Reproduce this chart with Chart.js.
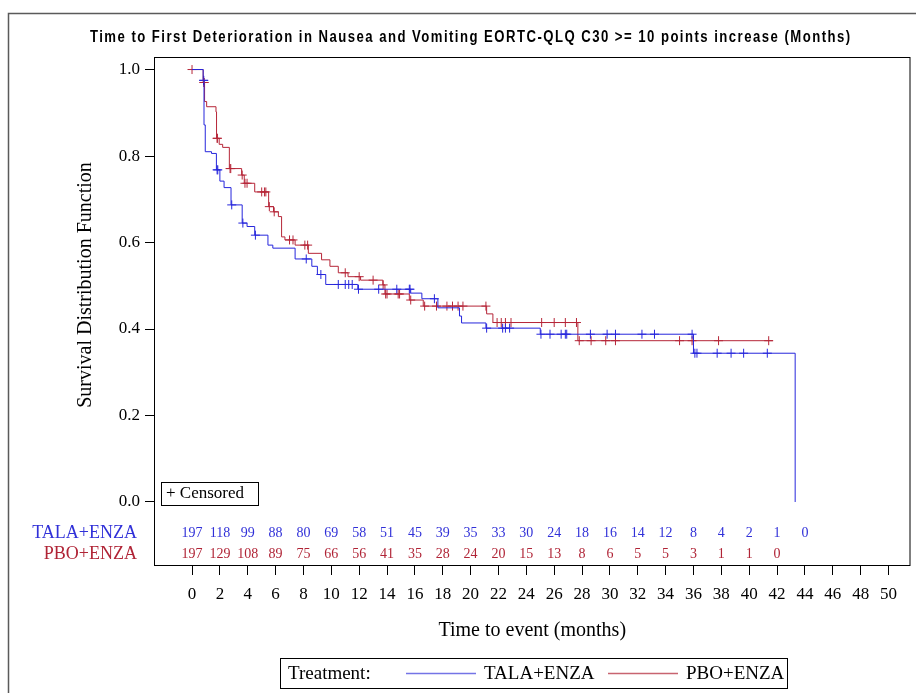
<!DOCTYPE html>
<html>
<head>
<meta charset="utf-8">
<title>Time to First Deterioration in Nausea and Vomiting</title>
<script src="https://cdn.jsdelivr.net/npm/chart.js@4.4.1/dist/chart.umd.min.js"></script>
<style>
    html, body { margin: 0; padding: 0; background: #ffffff; }
    #wrap { width: 916px; height: 693px; position: relative; }
</style>
</head>
<body>
<div id="wrap"><canvas id="kmChart" width="916" height="693"></canvas></div>
<script>
// Kaplan-Meier steps: time (months) and survival after the step
const talaTimes = [0, 0.8, 0.86, 0.95, 1.4, 1.75, 2.0, 2.3, 2.8, 3.6, 3.95, 4.5, 5.45, 5.8, 7.4, 8.6, 9.0, 9.6, 11.9, 15.7, 16.5, 17.65, 19.2, 19.35, 21.1, 25.0, 36.0, 43.3];
const talaSurv = [1.0, 0.975, 0.872, 0.81, 0.806, 0.768, 0.742, 0.727, 0.687, 0.645, 0.637, 0.617, 0.594, 0.587, 0.562, 0.545, 0.526, 0.503, 0.492, 0.483, 0.47, 0.449, 0.43, 0.414, 0.402, 0.388, 0.344, 0.0];
const talaCensored = [0.83, 0.84, 1.8, 1.85, 2.85, 3.65, 4.55, 8.2, 9.25, 10.5, 11.0, 11.25, 11.5, 11.95, 13.4, 14.7, 15.6, 15.65, 17.4, 21.15, 22.3, 22.5, 22.8, 25.05, 25.7, 26.5, 26.8, 26.9, 28.6, 29.8, 30.4, 32.3, 33.2, 35.9, 36.1, 36.25, 37.7, 38.7, 39.6, 41.3];

const pboTimes = [0, 0.8, 0.9, 1.05, 1.72, 1.76, 1.95, 2.2, 2.68, 3.56, 3.75, 4.5, 5.5, 5.85, 6.2, 6.43, 6.67, 7.4, 8.35, 9.3, 9.9, 10.5, 11.2, 12.1, 13.7, 13.85, 15.6, 16.6, 21.15, 21.6, 27.7, 41.7];
const pboSurv = [1.0, 0.97, 0.926, 0.914, 0.902, 0.841, 0.827, 0.82, 0.771, 0.756, 0.737, 0.717, 0.683, 0.671, 0.66, 0.613, 0.606, 0.594, 0.575, 0.56, 0.545, 0.53, 0.521, 0.513, 0.502, 0.481, 0.467, 0.453, 0.435, 0.415, 0.373, 0.373];
const pboCensored = [0, 0.85, 0.87, 1.8, 1.82, 2.73, 2.78, 3.6, 3.8, 3.95, 5.0, 5.2, 5.3, 5.55, 5.9, 7.0, 7.25, 8.1, 8.3, 11.0, 12.0, 13.0, 13.72, 13.9, 14.0, 14.8, 14.9, 15.7, 16.7, 17.55, 18.3, 18.7, 19.1, 19.45, 21.1, 21.9, 22.2, 22.5, 22.9, 25.1, 26.0, 26.8, 27.6, 27.8, 28.65, 29.7, 30.4, 35.0, 35.9, 37.8, 41.4];

// Number at risk table
const riskTimes = [0, 2, 4, 6, 8, 10, 12, 14, 16, 18, 20, 22, 24, 26, 28, 30, 32, 34, 36, 38, 40, 42, 44];
const talaRisk = [197, 118, 99, 88, 80, 69, 58, 51, 45, 39, 35, 33, 30, 24, 18, 16, 14, 12, 8, 4, 2, 1, 0];
const pboRisk = [197, 129, 108, 89, 75, 66, 56, 41, 35, 28, 24, 20, 15, 13, 8, 6, 5, 5, 3, 1, 1, 0];

// Axis ticks
const xTicks = [0, 2, 4, 6, 8, 10, 12, 14, 16, 18, 20, 22, 24, 26, 28, 30, 32, 34, 36, 38, 40, 42, 44, 46, 48, 50];
const yTicks = [0.0, 0.2, 0.4, 0.6, 0.8, 1.0];

const groups = ['TALA+ENZA', 'PBO+ENZA'];
const colors = {
    tala: '#2626dc',
    pbo: '#b62638',
    talaText: '#3030d8',
    pboText: '#b02436',
    talaLegend: '#7474e6',
    pboLegend: '#c86470'
};
const SERIF = '"Liberation Serif", "Times New Roman", serif';

// survival value of a step function at time t
function survAt(times, surv, t) {
    let s = surv[0];
    for (let i = 0; i < times.length; i++) {
        if (times[i] <= t) s = surv[i];
    }
    return s;
}

function stepPoints(times, surv) {
    return times.map((t, i) => ({ x: t, y: surv[i] }));
}

function censorPoints(times, surv, cens) {
    return cens.map(t => ({ x: t, y: survAt(times, surv, t) }));
}

// Decorations: frames, titles, at-risk table, legend
const sasDecor = {
    id: 'sasDecor',
    afterDraw(chart) {
        const ctx = chart.ctx;
        const area = chart.chartArea;
        const xs = chart.scales.x;
        ctx.save();

        // outer border
        ctx.strokeStyle = '#5a5a5a';
        ctx.lineWidth = 1.5;
        ctx.beginPath();
        ctx.moveTo(8.5, 693);
        ctx.lineTo(8.5, 13.5);
        ctx.lineTo(916, 13.5);
        ctx.stroke();

        // plot frame
        ctx.strokeStyle = '#000';
        ctx.lineWidth = 1;
        ctx.strokeRect(area.left + 0.5, area.top + 0.5, area.width - 1, area.height - 1);

        // title (condensed bold, stretched to the reference width)
        const title = 'Time to First Deterioration in Nausea and Vomiting EORTC-QLQ C30 >= 10 points increase (Months)';
        ctx.fillStyle = '#000';
        ctx.textBaseline = 'middle';
        ctx.textAlign = 'left';
        ctx.save();
        const sx = 0.82;
        ctx.translate(90, 38);
        ctx.scale(sx, 1);
        ctx.font = 'bold 16px "Liberation Sans", sans-serif';
        const w = ctx.measureText(title).width;
        const spacing = (760 / sx - w) / (title.length - 1);
        ctx.letterSpacing = spacing.toFixed(2) + 'px';
        ctx.fillText(title, 0, 0);
        ctx.letterSpacing = '0px';
        ctx.restore();

        // y axis title
        ctx.save();
        ctx.translate(86, 285);
        ctx.rotate(-Math.PI / 2);
        ctx.font = '20px ' + SERIF;
        ctx.textAlign = 'center';
        ctx.fillText('Survival Distribution Function', 0, 0);
        ctx.restore();

        // x axis title
        ctx.font = '20px ' + SERIF;
        ctx.textAlign = 'center';
        ctx.fillText('Time to event (months)', (area.left + area.right) / 2, 631);

        // censored box
        ctx.strokeRect(161.5, 482.5, 97, 23);
        ctx.font = '17px ' + SERIF;
        ctx.textAlign = 'left';
        ctx.fillText('+ Censored', 166, 494);

        // at-risk table
        ctx.font = '18px ' + SERIF;
        ctx.textAlign = 'right';
        ctx.fillStyle = colors.talaText;
        ctx.fillText(groups[0], 137, 533);
        ctx.fillStyle = colors.pboText;
        ctx.fillText(groups[1], 137, 554);

        ctx.font = '14px ' + SERIF;
        ctx.textAlign = 'center';
        ctx.fillStyle = colors.talaText;
        talaRisk.forEach((n, i) => ctx.fillText(String(n), xs.getPixelForValue(riskTimes[i]), 533));
        ctx.fillStyle = colors.pboText;
        pboRisk.forEach((n, i) => ctx.fillText(String(n), xs.getPixelForValue(riskTimes[i]), 554));

        // legend
        ctx.strokeStyle = '#000';
        ctx.strokeRect(280.5, 658.5, 507, 30);
        ctx.fillStyle = '#000';
        ctx.font = '19px ' + SERIF;
        ctx.textAlign = 'left';
        ctx.fillText('Treatment:', 288, 674);
        ctx.lineWidth = 1.5;
        ctx.strokeStyle = colors.talaLegend;
        ctx.beginPath();
        ctx.moveTo(406, 673.5);
        ctx.lineTo(476, 673.5);
        ctx.stroke();
        ctx.fillText(groups[0], 484, 674);
        ctx.strokeStyle = colors.pboLegend;
        ctx.beginPath();
        ctx.moveTo(608, 673.5);
        ctx.lineTo(678, 673.5);
        ctx.stroke();
        ctx.fillText(groups[1], 686, 674);

        ctx.restore();
    }
};

const ctx = document.getElementById('kmChart');

new Chart(ctx, {
    type: 'line',
    data: {
        datasets: [
            {
                label: groups[0],
                data: stepPoints(talaTimes, talaSurv),
                borderColor: colors.tala,
                borderWidth: 1,
                stepped: 'before',
                pointRadius: 0,
                fill: false
            },
            {
                label: groups[1],
                data: stepPoints(pboTimes, pboSurv),
                borderColor: colors.pbo,
                borderWidth: 1,
                stepped: 'before',
                pointRadius: 0,
                fill: false
            },
            {
                label: groups[0] + ' censored',
                data: censorPoints(talaTimes, talaSurv, talaCensored),
                showLine: false,
                pointStyle: 'cross',
                pointRadius: 4.5,
                pointBorderWidth: 1,
                pointBorderColor: colors.tala
            },
            {
                label: groups[1] + ' censored',
                data: censorPoints(pboTimes, pboSurv, pboCensored),
                showLine: false,
                pointStyle: 'cross',
                pointRadius: 4.5,
                pointBorderWidth: 1,
                pointBorderColor: colors.pbo
            }
        ]
    },
    options: {
        responsive: false,
        animation: false,
        layout: {
            padding: { top: 57, right: 5, left: 0, bottom: 0 }
        },
        plugins: {
            legend: { display: false },
            tooltip: { enabled: false },
            title: { display: false }
        },
        scales: {
            x: {
                type: 'linear',
                min: -2.73,
                max: 51.58,
                afterBuildTicks: axis => { axis.ticks = xTicks.map(v => ({ value: v })); },
                afterFit: scale => { scale.height = 127; },
                border: { display: false },
                grid: {
                    drawOnChartArea: false,
                    drawTicks: true,
                    tickLength: 9,
                    color: '#000'
                },
                ticks: {
                    autoSkip: false,
                    maxRotation: 0,
                    padding: 9,
                    color: '#000',
                    font: { size: 17, family: SERIF },
                    callback: v => String(v)
                }
            },
            y: {
                type: 'linear',
                min: -0.148,
                max: 1.029,
                afterBuildTicks: axis => { axis.ticks = yTicks.map(v => ({ value: v })); },
                afterFit: scale => { scale.width = 154; },
                border: { display: false },
                grid: {
                    drawOnChartArea: false,
                    drawTicks: true,
                    tickLength: 9,
                    color: '#000'
                },
                ticks: {
                    padding: 5,
                    color: '#000',
                    font: { size: 17, family: SERIF },
                    callback: v => Number(v).toFixed(1)
                }
            }
        }
    },
    plugins: [sasDecor]
});
</script>
</body>
</html>
